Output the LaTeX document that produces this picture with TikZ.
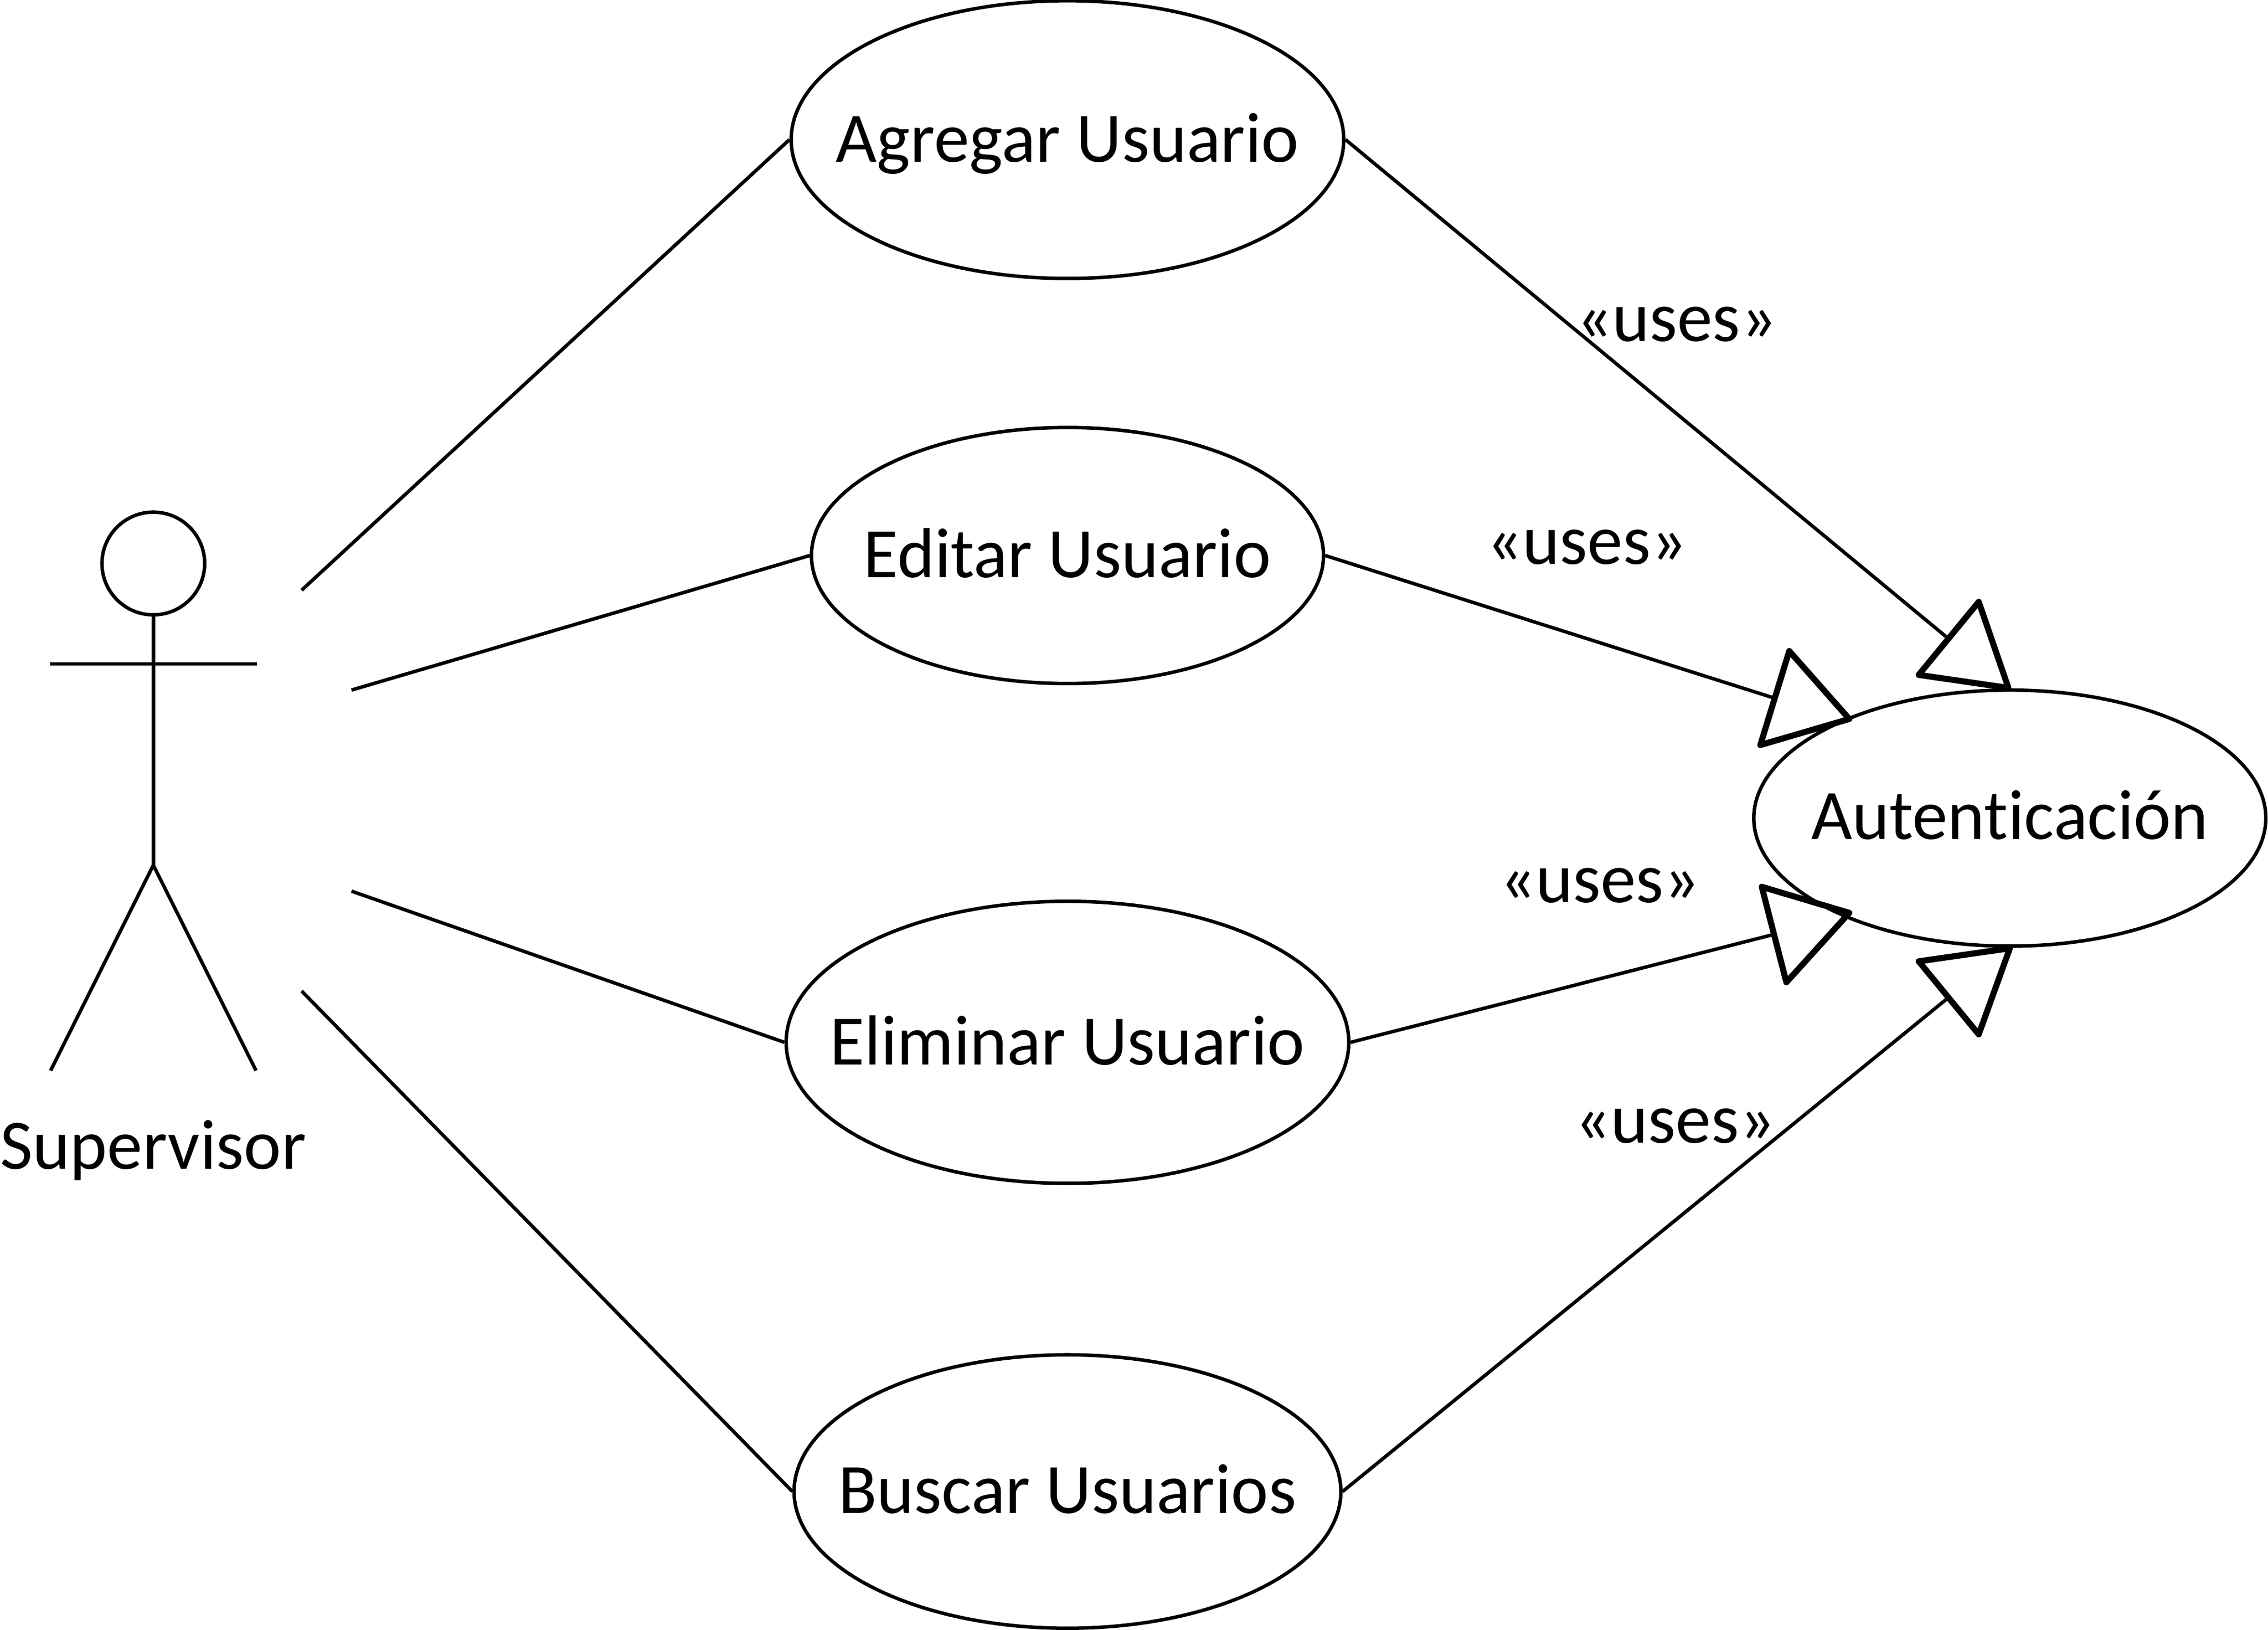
\documentclass[tikz,border=0pt]{standalone}
\usepackage{fontspec}
\setmainfont[RawFeature={-liga}]{Carlito}
\usetikzlibrary{shapes.geometric}
\tikzset{
  usecase/.style={draw=black,line width=2.4pt,ellipse,inner sep=0pt,minimum width=#1},
  lbl/.style={font=\fontsize{49}{52}\selectfont,inner sep=0pt,text=black,anchor=base},
  ln/.style={draw=black,line width=2.4pt},
  tip/.style={draw=black,line width=4.2pt,line join=round,fill=none}
}
\begin{document}
\begin{tikzpicture}[x=1pt,y=-1pt]
\useasboundingbox (0,0) rectangle (1568,1126.6);
% use cases
\node[usecase=382pt,minimum height=192pt] (agregar) at (738,96.5) {};
\node[usecase=354pt,minimum height=177pt] (editar) at (738,384) {};
\node[usecase=389pt,minimum height=195pt] (eliminar) at (738,720.5) {};
\node[usecase=378pt,minimum height=189pt] (buscar) at (738,1031) {};
\node[usecase=354pt,minimum height=177pt] (auten) at (1389.5,565.5) {};
\node[lbl] (tagregar) at (738,112) {Agregar Usuario};
\node[lbl] (teditar) at (738,399) {Editar Usuario};
\node[lbl] (teliminar) at (738,736) {Eliminar Usuario};
\node[lbl] (tbuscar) at (738,1046) {Buscar Usuarios};
\node[lbl] (tauten) at (1389.5,580) {Autenticación};
% actor
\node[draw=black,line width=2.4pt,circle,minimum size=71pt,inner sep=0pt] (head) at (106,389.5) {};
\coordinate (hip) at (106,598);
\coordinate (armL) at (34.5,459);
\coordinate (armR) at (177.5,459);
\coordinate (footL) at (35,740);
\coordinate (footR) at (177,740);
\draw[ln] (head.south) -- (hip);
\draw[ln] (armL) -- (armR);
\draw[ln] (footL) -- (hip) -- (footR);
\node[lbl] (actor) at (106,808) {Supervisor};
% actor links
\coordinate (a1) at (208.5,408);
\coordinate (a2) at (243,477);
\coordinate (a3) at (243,616);
\coordinate (a4) at (208.5,685);
\draw[ln] (a1) -- (agregar.west);
\draw[ln] (a2) -- (editar.west);
\draw[ln] (a3) -- (eliminar.west);
\draw[ln] (a4) -- (buscar.west);
% uses links
\coordinate (t1) at (1388.5,475.5);
\coordinate (t1a) at (1368,416);
\coordinate (t1b) at (1326.5,466.5);
\coordinate (t1m) at (1346.5,441);
\coordinate (t2) at (1278.5,497);
\coordinate (t2a) at (1237,450);
\coordinate (t2b) at (1217,515);
\coordinate (t2m) at (1226.5,482.5);
\coordinate (t3) at (1278.5,631);
\coordinate (t3a) at (1218,613);
\coordinate (t3b) at (1235,679);
\coordinate (t3m) at (1226,646);
\coordinate (t4) at (1389.5,655.5);
\coordinate (t4a) at (1326.5,664.5);
\coordinate (t4b) at (1368,715);
\coordinate (t4m) at (1346.5,690);
\draw[ln] (agregar.east) -- (t1m);
\draw[ln] (editar.east) -- (t2m);
\draw[ln] (eliminar.east) -- (t3m);
\draw[ln] (buscar.east) -- (t4m);
\draw[tip] (t1) -- (t1a) -- (t1b) -- cycle;
\draw[tip] (t2) -- (t2a) -- (t2b) -- cycle;
\draw[tip] (t3) -- (t3a) -- (t3b) -- cycle;
\draw[tip] (t4) -- (t4a) -- (t4b) -- cycle;
\node[lbl] (u1) at (1159,236) {«uses»};
\node[lbl] (u2) at (1097,390) {«uses»};
\node[lbl] (u3) at (1106,624) {«uses»};
\node[lbl] (u4) at (1158,790) {«uses»};
\end{tikzpicture}
\end{document}
